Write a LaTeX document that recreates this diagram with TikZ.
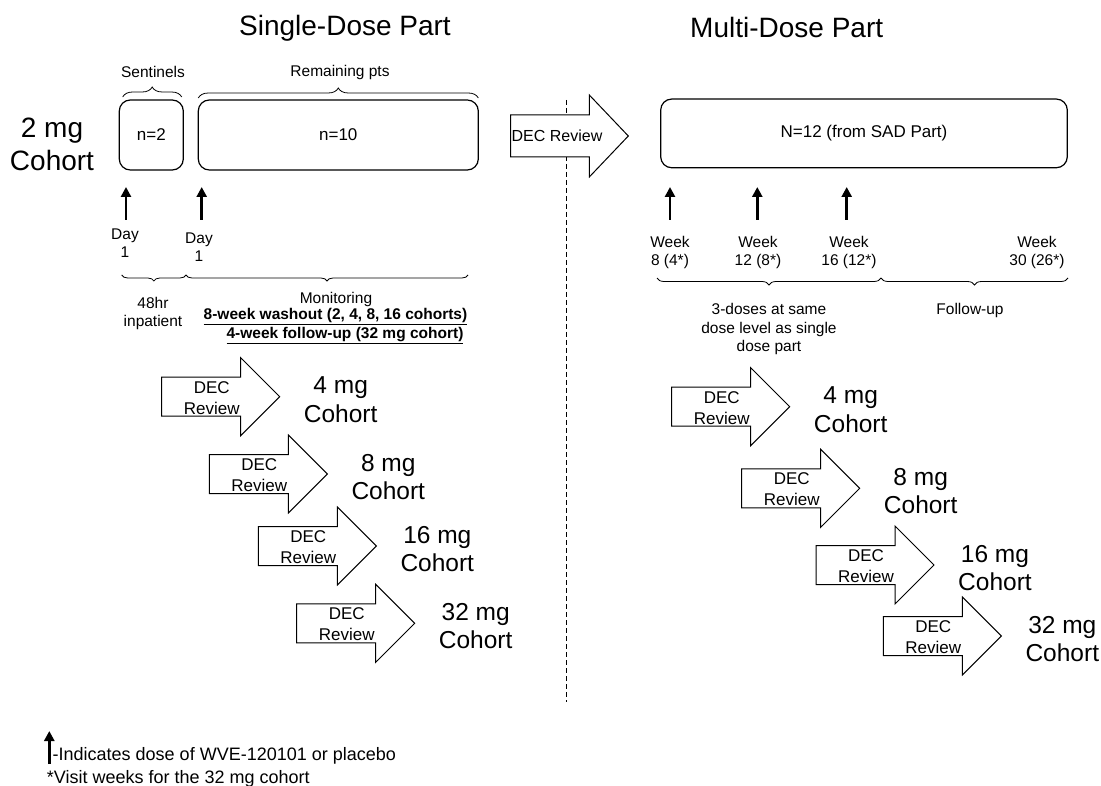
\documentclass[tikz,border=0pt]{standalone}
\usepackage{fontspec}
\setmainfont{Liberation Sans}
\usetikzlibrary{arrows.meta,decorations.pathreplacing}
\tikzset{
  txt/.style={inner sep=0pt, align=center, font=\fontsize{15.5}{18.5}\selectfont},
  bigtxt/.style={inner sep=0pt, align=center, font=\fontsize{28}{33}\selectfont},
  cohort/.style={inner sep=0pt, align=center, font=\fontsize{24.5}{28.5}\selectfont},
  dectxt/.style={inner sep=0pt, align=center, font=\fontsize{17}{21}\selectfont},
  roundbox/.style={draw, line width=1.2pt, rounded corners=11pt, inner sep=0pt, font=\fontsize{17}{20}\selectfont},
  blockarrow/.style={draw, fill=white, line width=1pt, line join=miter},
  dose/.style={line width=2.7pt, -{Triangle[length=10pt,width=10pt]}},
  topbrace/.style={decorate, decoration={brace, amplitude=10pt}, line width=0.8pt},
  lowbrace/.style={decorate, decoration={brace, mirror, amplitude=6pt}, line width=0.8pt},
}
\newcommand\decstep[4]{%
  \draw[blockarrow] (#2,#3-19.5) -- (#2+79,#3-19.5) -- (#2+79,#3-39) -- (#2+118,#3)
     -- (#2+79,#3+39) -- (#2+79,#3+19.5) -- (#2,#3+19.5) -- cycle;
  \node[dectxt] (#1) at (#2+50,#3+1) {DEC\\Review};
  \node[cohort] (#1c) at (#2+179,#3+3) {#4\\Cohort};
}
\begin{document}
\begin{tikzpicture}[x=1pt,y=-1pt]
\useasboundingbox (0,0) rectangle (1101,786);
\fill[white] (0,0) rectangle (1101,786);

% titles
\node[bigtxt] (t1) at (345,28) {Single-Dose Part};
\node[bigtxt] (t2) at (786.7,27.5) {Multi-Dose Part};

% 2 mg cohort
\node[bigtxt] (c2) at (52,144) {2 mg\\Cohort};

% top boxes
\node[roundbox, minimum width=64pt, minimum height=70pt] (sent) at (151.3,135) {n=2};
\node[roundbox, minimum width=280pt, minimum height=70pt] (rem) at (338.3,135) {n=10};
\node[roundbox, minimum width=406.6pt, minimum height=68.7pt] (mad) at (864,133.4) {\raisebox{-2pt}{N=12 (from SAD Part)}};

% top braces
\draw[topbrace] (122.7,97) -- (181.7,97);
\draw[topbrace] (198.3,98) -- (478.3,98);
\node[txt] (lsent) at (153,72) {Sentinels};
\node[txt] (lrem) at (340,72) {Remaining pts};

% dashed divider
\coordinate (dv1) at (566,100);
\coordinate (dv2) at (566,702);
\draw[dashed, dash pattern=on 5pt off 3pt, line width=0.9pt] (dv1) -- (dv2);

% main DEC review arrow
\draw[blockarrow] (510.7,115) -- (589.3,115) -- (589.3,95) -- (628.3,136) -- (589.3,177) -- (589.3,157) -- (510.7,157) -- cycle;
\node[inner sep=0pt, font=\fontsize{16}{19}\selectfont] (dec0) at (557,136) {DEC Review};

% dose arrows single-dose
\coordinate (a1s) at (126,220); \coordinate (a1e) at (126,187);
\coordinate (a2s) at (201.7,220); \coordinate (a2e) at (201.7,187);
\draw[dose] (a1s) -- (a1e);
\draw[dose] (a2s) -- (a2e);
\node[txt] (day1) at (125,243) {Day\\1};
\node[txt] (day2) at (199,247) {Day\\1};

% dose arrows multi-dose
\coordinate (b1s) at (670,220); \coordinate (b1e) at (670,187);
\coordinate (b2s) at (757.3,220); \coordinate (b2e) at (757.3,187);
\coordinate (b3s) at (846.7,220); \coordinate (b3e) at (846.7,187);
\draw[dose] (b1s) -- (b1e);
\draw[dose] (b2s) -- (b2e);
\draw[dose] (b3s) -- (b3e);
\node[txt] (w1) at (670,252.5) {Week\\8 (4*)};
\node[txt] (w2) at (758,252.5) {Week\\12 (8*)};
\node[txt] (w3) at (849,252.5) {Week\\16 (12*)};
\node[txt] (w4) at (1037,252.5) {Week\\30 (26*)};

% timeline braces
\draw[lowbrace] (121.7,275) -- (186,275);
\draw[lowbrace] (186,275) -- (468,275);
\draw[lowbrace, decoration={amplitude=7pt}] (657,278) -- (881,278);
\draw[lowbrace, decoration={amplitude=7pt}] (881,278) -- (1068,278);

\node[txt] (inp) at (153,313.5) {48hr\\inpatient};
\node[txt] (mon) at (336,299) {Monitoring};
\node[txt, font=\fontsize{15.5}{18.5}\selectfont\bfseries] (wash) at (335.5,316.5) {\underline{8-week washout (2, 4, 8, 16 cohorts)}};
\node[txt, font=\fontsize{15.5}{18.5}\selectfont\bfseries] (fu4) at (345,336) {\underline{4-week follow-up (32 mg cohort)}};

\node[txt] (three) at (769,329) {3-doses at same\\dose level as single\\dose part};
\node[txt] (fup) at (970,310.7) {Follow-up};

% DEC review steps, single-dose
\decstep{sl1}{161.7}{396.7}{4 mg}
\decstep{sl2}{209.3}{474}{8 mg}
\decstep{sl3}{258.3}{546}{16 mg}
\decstep{sl4}{296.7}{623.3}{32 mg}

% DEC review steps, multi-dose
\decstep{sr1}{671.7}{406.7}{4 mg}
\decstep{sr2}{741.7}{488.3}{8 mg}
\decstep{sr3}{816}{565}{16 mg}
\decstep{sr4}{883.3}{636}{32 mg}

% legend
\coordinate (ls) at (49.3,764); \coordinate (le) at (49.3,731);
\draw[dose] (ls) -- (le);
\node[inner sep=0pt, anchor=west, font=\fontsize{18}{22}\selectfont] (leg1) at (52.5,756) {-Indicates dose of WVE-120101 or placebo};
\node[inner sep=0pt, anchor=west, font=\fontsize{18}{22}\selectfont] (leg2) at (46.7,779) {*Visit weeks for the 32 mg cohort};
\end{tikzpicture}
\end{document}
